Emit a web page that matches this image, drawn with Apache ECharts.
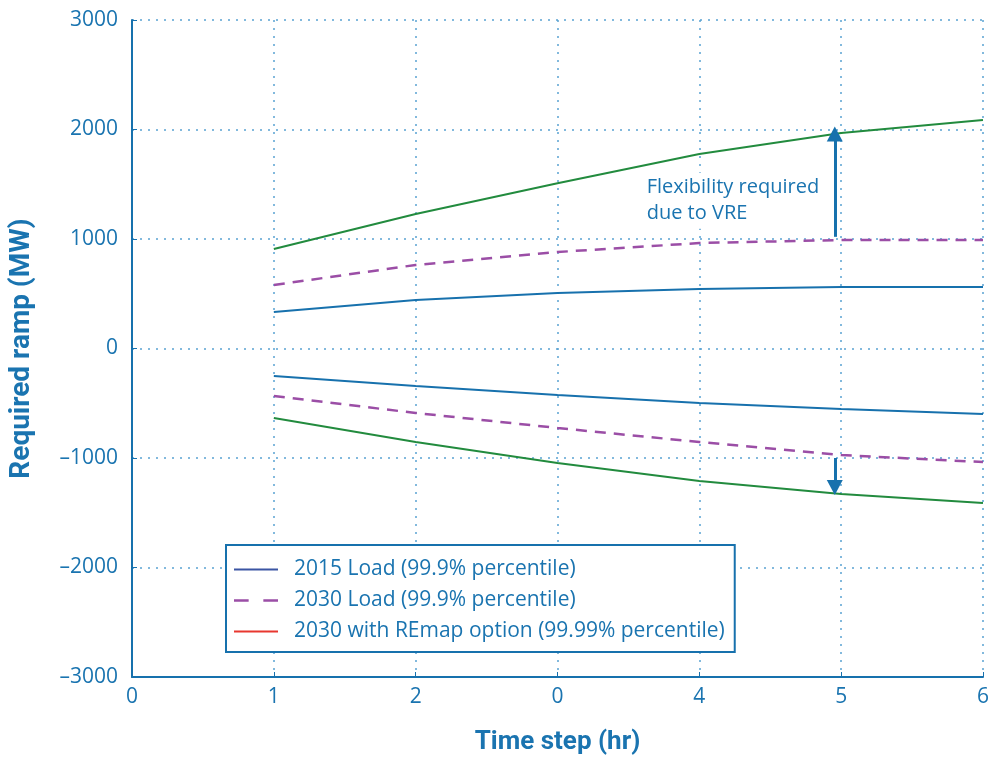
<!DOCTYPE html>
<html><head><meta charset="utf-8">
<script src="https://cdn.jsdelivr.net/npm/echarts@6/dist/echarts.min.js"></script>
<style>html,body{margin:0;padding:0;background:#fff}#c{width:992px;height:761px}</style>
</head><body><div id="c"></div>
<script>
const steps = [1, 2, 3, 4, 5, 6];
const xTickLabels = ['0', '1', '2', '0', '4', '5', '6'];
const load2015Upper = [333, 443, 507, 543, 562, 562];
const load2015Lower = [-251, -342, -425, -498, -553, -598];
const load2030Upper = [580, 763, 881, 963, 991, 991];
const load2030Lower = [-434, -589, -726, -854, -973, -1037];
const remapUpper = [909, 1228, 1510, 1776, 1968, 2087];
const remapLower = [-635, -854, -1046, -1210, -1329, -1411];
const seriesNames = ['2015 Load (99.9% percentile)', '2030 Load (99.9% percentile)', '2030 with REmap option (99.99% percentile)'];
const upArrow = [[4.955, 1020], [4.955, 1960]];
const downArrow = [[4.955, -1000], [4.955, -1270]];
const annotation = 'Flexibility required\ndue to VRE';

const BLUE = '#1771ad', PURPLE = '#9b4ea6', GREEN = '#228b3e', TXT = '#1a74b0', GRIDC = '#5aa2d2';
const FONT = 'Open Sans';
const pairs = s => steps.map((x, i) => [x, s[i]]);
function lineSeries(name, data, color, dashed) {
  return { name, type: 'line', data: pairs(data), symbol: 'none', showSymbol: false, silent: true,
    lineStyle: { color, width: dashed ? 2.5 : 2, type: dashed ? [11, 8] : 'solid' }, itemStyle: { color } };
}
const chart = echarts.init(document.getElementById('c'));
chart.setOption({
  animation: false,
  grid: { left: 131, right: 9, top: 20, bottom: 84 },
  xAxis: {
    type: 'value', min: 0, max: 6, interval: 1,
    name: 'Time step (hr)', nameLocation: 'middle', nameGap: 52,
    nameTextStyle: { color: TXT, fontSize: 26, fontWeight: 'bold', fontFamily: 'Roboto' },
    axisLine: { onZero: false, lineStyle: { color: BLUE, width: 2 } },
    axisTick: { show: true, inside: true, length: 5, lineStyle: { color: BLUE } },
    axisLabel: { color: TXT, fontSize: 21, fontFamily: FONT, margin: 10, formatter: v => xTickLabels[Math.round(v)] },
    splitLine: { show: true, lineStyle: { color: GRIDC, type: [2, 6], width: 1.5 } }
  },
  yAxis: {
    type: 'value', min: -3000, max: 3000, interval: 1000,
    name: 'Required ramp (MW)', nameLocation: 'middle', nameGap: 96, nameRotate: 90,
    nameTextStyle: { color: TXT, fontSize: 28, fontWeight: 'bold', fontFamily: 'Roboto' },
    axisLine: { show: true, onZero: false, lineStyle: { color: BLUE, width: 2 } },
    axisTick: { show: true, inside: true, length: 5, lineStyle: { color: BLUE } },
    axisLabel: { color: TXT, fontSize: 21, fontFamily: FONT, margin: 14, formatter: v => String(v).replace('-', '\u2013') },
    splitLine: { show: true, lineStyle: { color: GRIDC, type: [2, 6], width: 1.5 } }
  },
  legend: {
    orient: 'vertical', left: 226, top: 545, backgroundColor: '#fff',
    borderColor: BLUE, borderWidth: 2, borderRadius: 0, padding: [12, 8, 8, 8], itemGap: 6,
    itemWidth: 44, itemHeight: 25,
    textStyle: { color: TXT, fontSize: 21, fontFamily: FONT, lineHeight: 25, padding: [0, 2, 0, 11] },
    data: [
      { name: seriesNames[0], icon: 'path://M0,12L44,12L44,14L0,14Z', itemStyle: { color: '#3b55a3' } },
      { name: seriesNames[1], icon: 'path://M0,12L12,12L12,14L0,14ZM24,12L36,12L36,14L24,14Z', itemStyle: { color: PURPLE } },
      { name: seriesNames[2], icon: 'path://M0,12L44,12L44,14L0,14Z', itemStyle: { color: '#e8372f' } }
    ],
    selectedMode: false
  },
  series: [
    lineSeries(seriesNames[2], remapUpper, GREEN, false),
    lineSeries(seriesNames[2], remapLower, GREEN, false),
    lineSeries(seriesNames[1], load2030Upper, PURPLE, true),
    lineSeries(seriesNames[1], load2030Lower, PURPLE, true),
    lineSeries(seriesNames[0], load2015Upper, BLUE, false),
    lineSeries(seriesNames[0], load2015Lower, BLUE, false),
    { name: 'arrows', type: 'line', data: [], silent: true,
      markLine: { silent: true, symbol: ['none', 'triangle'], symbolSize: [16, 15],
        lineStyle: { color: BLUE, width: 3, type: 'solid' }, itemStyle: { color: '#2d4f9e' }, label: { show: false },
        data: [
          [{ coord: upArrow[0] }, { coord: upArrow[1] }],
          [{ coord: downArrow[0] }, { coord: downArrow[1] }]
        ] },
      markPoint: { silent: true, symbol: 'rect', symbolSize: 1, itemStyle: { color: 'transparent' },
        data: [{ coord: [3.59, 1350], label: { show: true, formatter: annotation, position: 'right', color: TXT, fontSize: 20, fontFamily: FONT, lineHeight: 26, align: 'left', backgroundColor: '#fff', padding: [2, 0, 2, 0] } }] }
    }
  ]
});
</script></body></html>
